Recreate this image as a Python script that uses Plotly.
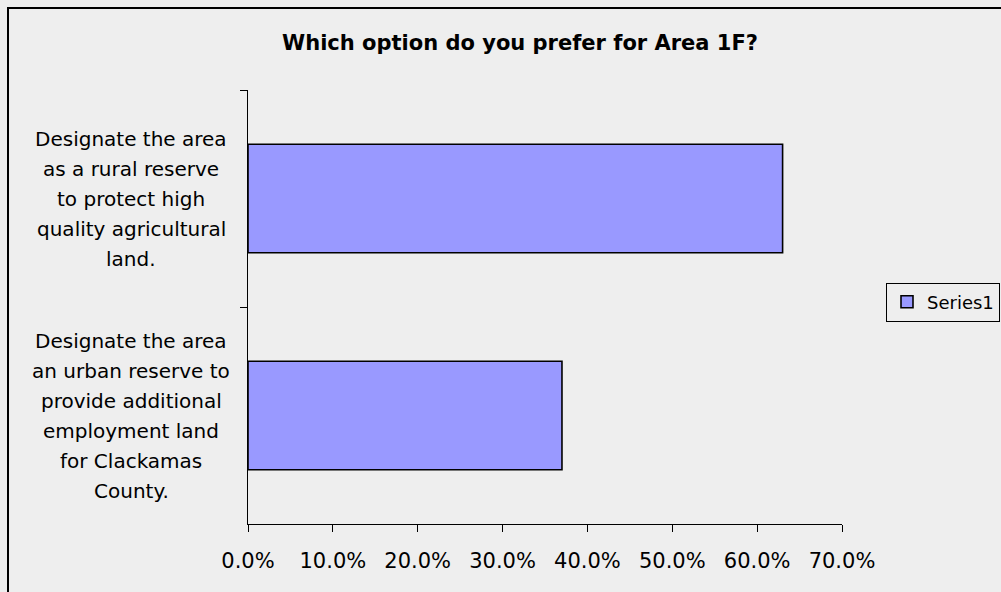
import plotly.graph_objects as go

# Survey responses for Area 1F
categories = [
    "Designate the area as a rural reserve to protect high quality agricultural land.",
    "Designate the area an urban reserve to provide additional employment land for Clackamas County.",
]
category_lines = [
    ["Designate the area", "as a rural reserve", "to protect high", "quality agricultural", "land."],
    ["Designate the area", "an urban reserve to", "provide additional", "employment land", "for Clackamas", "County."],
]
shares = [0.63, 0.37]
x_ticks = [0.0, 0.1, 0.2, 0.3, 0.4, 0.5, 0.6, 0.7]
series_name = "Series1"

FONT = "DejaVu Sans"
BG = "#eeeeee"
W, H = 1001, 592
ML, MR, MT, MB = 248, 159, 90, 68
plot_w = W - ML - MR
plot_h = H - MT - MB

fig = go.Figure()
fig.add_trace(go.Bar(
    y=categories,
    x=shares,
    orientation="h",
    name=series_name,
    marker=dict(color="#9999ff", line=dict(color="#000000", width=1.6)),
    showlegend=True,
))

# Category labels drawn line by line, centred under each other
annotations = []
line_step = 30
for cat, lines in zip(categories, category_lines):
    n = len(lines)
    for i, txt in enumerate(lines):
        annotations.append(dict(
            x=(131 - ML) / plot_w, xref="paper",
            y=cat, yref="y",
            text=txt, showarrow=False,
            xanchor="center", yanchor="middle",
            yshift=((n - 1) / 2 - i) * line_step,
            font=dict(family=FONT, size=20, color="#000000"),
        ))

# Outer chart frame
shapes = [dict(
    type="rect", xref="paper", yref="paper",
    x0=(8 - ML) / plot_w, x1=(W + 20 - ML) / plot_w,
    y0=-(H + 20 - (MT + plot_h)) / plot_h, y1=(MT + plot_h - 8) / plot_h,
    line=dict(color="#000000", width=2), fillcolor="rgba(0,0,0,0)", layer="below",
)]

fig.update_layout(
    width=W, height=H,
    margin=dict(l=ML, r=MR, t=MT, b=MB, autoexpand=False),
    paper_bgcolor=BG, plot_bgcolor=BG,
    bargap=0.5,
    title=dict(
        text="<b>Which option do you prefer for Area 1F?</b>",
        x=(520) / W, xanchor="center", y=1 - 43 / H, yanchor="middle",
        font=dict(family=FONT, size=21, color="#000000"),
    ),
    xaxis=dict(
        range=[0, 0.7], tickvals=x_ticks, tickformat=".1%",
        showgrid=False, zeroline=False,
        showline=True, linecolor="#000000", linewidth=1,
        ticks="outside", ticklen=7, tickcolor="#000000", tickwidth=1,
        tickfont=dict(family=FONT, size=21, color="#000000"),
        ticklabelstandoff=11,
    ),
    yaxis=dict(
        categoryorder="array", categoryarray=categories, autorange="reversed",
        showticklabels=False, showgrid=False, zeroline=False,
        showline=True, linecolor="#000000", linewidth=1,
        ticks="outside", ticklen=7, tickcolor="#000000", tickwidth=1,
        tickson="boundaries",
    ),
    legend=dict(
        x=(886 - ML) / plot_w, xanchor="left",
        y=(plot_h - (302 - MT)) / plot_h, yanchor="middle",
        bgcolor=BG, bordercolor="#000000", borderwidth=1,
        font=dict(family=FONT, size=18, color="#000000"),
        tracegroupgap=0, itemwidth=30,
    ),
    annotations=annotations,
    shapes=shapes,
)

fig.write_html("out.html")
